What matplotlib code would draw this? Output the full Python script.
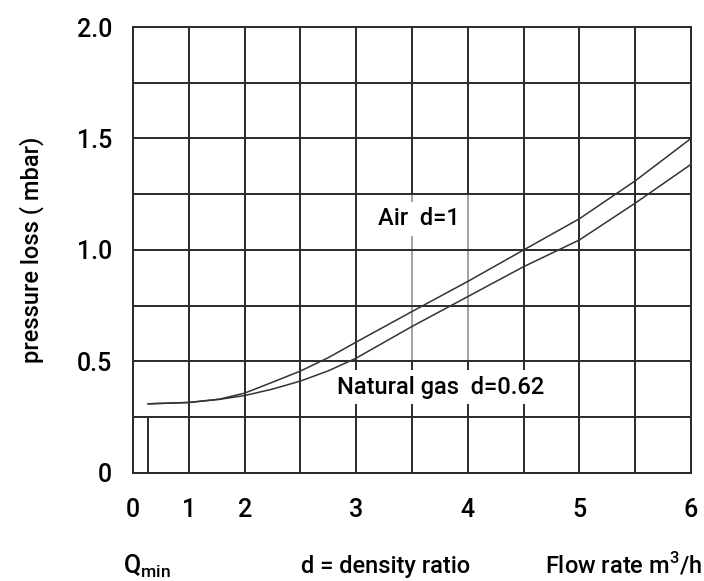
import numpy as np
import matplotlib
matplotlib.use("Agg")
import matplotlib.pyplot as plt
from matplotlib import font_manager as fm

# values
flow = [0.27, 1.0, 1.55, 2.0, 2.25, 2.5, 2.75, 3.0, 3.5, 4.0, 4.5, 5.0, 5.5, 6.0]
air = [0.31, 0.316, 0.331, 0.358, 0.407, 0.457, 0.517, 0.587, 0.724, 0.859, 1.0, 1.14, 1.31, 1.5]
gas = [0.31, 0.316, 0.33, 0.347, 0.376, 0.412, 0.458, 0.515, 0.657, 0.791, 0.925, 1.045, 1.21, 1.384]
q_min = 0.27

x_grid = [0, 1, 2, 2.5, 3, 3.5, 4, 4.5, 5, 5.5, 6]
x_ticks = [0, 1, 2, 3, 4, 5, 6]
y_grid = [0, 0.25, 0.5, 0.75, 1.0, 1.25, 1.5, 1.75, 2.0]
y_ticks = [0, 0.5, 1.0, 1.5, 2.0]
y_labels = ["0", "0.5", "1.0", "1.5", "2.0"]


def installed(name):
    try:
        fm.findfont(fm.FontProperties(family=name), fallback_to_default=False)
        return True
    except ValueError:
        return False


main_font = "Roboto" if installed("Roboto") else "Liberation Sans"
FS = 17
TS = 18

plt.rcParams["font.family"] = [main_font, "DejaVu Sans"]
plt.rcParams["font.weight"] = "medium"
plt.rcParams["mathtext.fontset"] = "custom"
plt.rcParams["mathtext.rm"] = main_font + ":medium"


# the flow axis is stretched: 0-2 one cell per unit, 2-6 two cells per unit
def fwd(v):
    v = np.asarray(v, dtype=float)
    return np.where(v <= 2, v, 2 + (v - 2) * 2)


def inv(u):
    u = np.asarray(u, dtype=float)
    return np.where(u <= 2, u, 2 + (u - 2) / 2)


fig = plt.figure(figsize=(7.04, 5.81), dpi=100)
ax = fig.add_axes([0.189, 0.186, 0.7925, 0.7675])
ax.set_xscale("function", functions=(fwd, inv))
ax.set_xlim(0, 6)
ax.set_ylim(0, 2)

grid_c = "#2a2a2a"
for gx in x_grid:
    if gx in (3.5, 4):
        ax.vlines(gx, 0, 0.5, color=grid_c, lw=1.4, zorder=1)
        ax.vlines(gx, 0.5, 1.25, color="#8a8a8a", lw=1.1, zorder=1)
        ax.vlines(gx, 1.25, 2, color=grid_c, lw=1.4, zorder=1)
    else:
        ax.axvline(gx, color=grid_c, lw=1.4, zorder=1)
for gy in y_grid:
    ax.axhline(gy, color=grid_c, lw=1.4, zorder=1)

ax.vlines(q_min, 0, 0.25, color=grid_c, lw=1.4, zorder=2)
ax.plot(flow, air, color="#333333", lw=1.1, zorder=3)
ax.plot(flow, gas, color="#333333", lw=1.1, zorder=3)

box = dict(facecolor="white", edgecolor="none", pad=4)
ax.text(3.56, 1.14, "Air  d=1", fontsize=FS, ha="center", va="center",
        bbox=box, zorder=2.5)
ax.text(3.755, 0.385, "Natural gas  d=0.62", fontsize=FS, ha="center",
        va="center", bbox=box, zorder=2.5)

for s in ax.spines.values():
    s.set_color(grid_c)
    s.set_linewidth(1.4)

ax.set_xticks(x_ticks)
ax.set_xticklabels([str(t) for t in x_ticks])
ax.set_yticks(y_ticks)
ax.set_yticklabels(y_labels)
ax.tick_params(length=0, labelsize=TS)
ax.tick_params(axis="x", pad=18)
ax.tick_params(axis="y", pad=15)
ax.minorticks_off()

fig.text(0.045, 0.57, "pressure loss ( mbar)", rotation=90, fontsize=FS,
         ha="center", va="center")
fig.text(0.209, 0.013, r"Q$_{\mathrm{min}}$", fontsize=FS + 1, ha="center",
         va="baseline")
fig.text(0.548, 0.013, "d = density ratio", fontsize=FS, ha="center",
         va="baseline")
fig.text(0.997, 0.013, r"Flow rate m$^{3}$/h", fontsize=FS, ha="right",
         va="baseline")

fig.savefig("out.png", dpi=100)
